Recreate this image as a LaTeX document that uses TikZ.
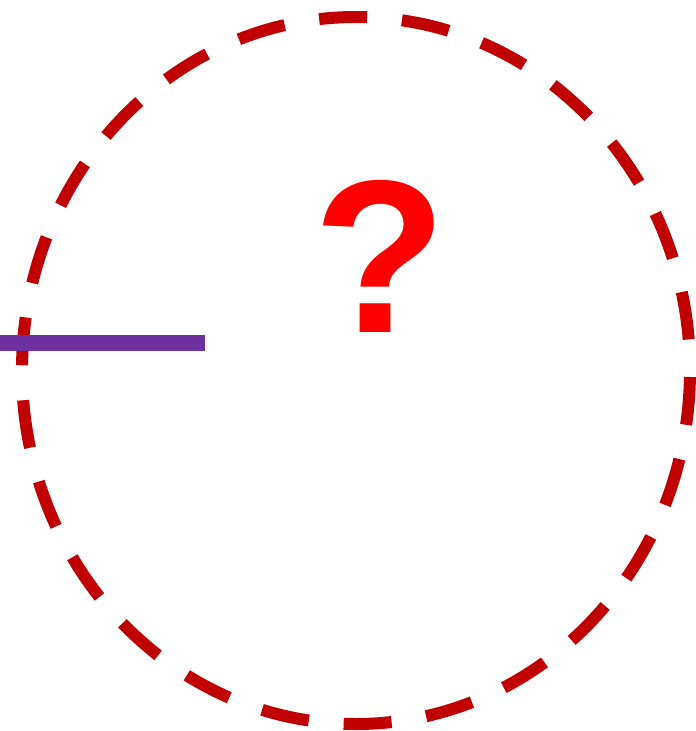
\documentclass[tikz,border=0pt]{standalone}
\usepackage{fontspec}
\setmainfont{Liberation Sans}
\definecolor{ringred}{HTML}{C00000}
\definecolor{barpurple}{HTML}{7030A0}
\definecolor{qred}{HTML}{FF0000}
\begin{document}
\begin{tikzpicture}[x=1pt,y=-1pt,
  ring/.style={draw=ringred,line width=12pt,dash pattern=on 48pt off 35pt,dash phase=76.5pt},
  bar/.style={draw=barpurple,line width=16pt},
  qmark/.style={text=qred,font=\fontsize{218}{218}\selectfont\bfseries,inner sep=0pt}]
\useasboundingbox (0,0) rectangle (696,731);
\coordinate (c) at (356,370.5);
\draw[ring] (c) ellipse [x radius=334, y radius=353.5];
\coordinate (barstart) at (0,343);
\coordinate (barend) at (205,343);
\draw[bar] (barstart) -- (barend);
\node[qmark,anchor=base] (q) at (380.5,332) {?};
\end{tikzpicture}
\end{document}
